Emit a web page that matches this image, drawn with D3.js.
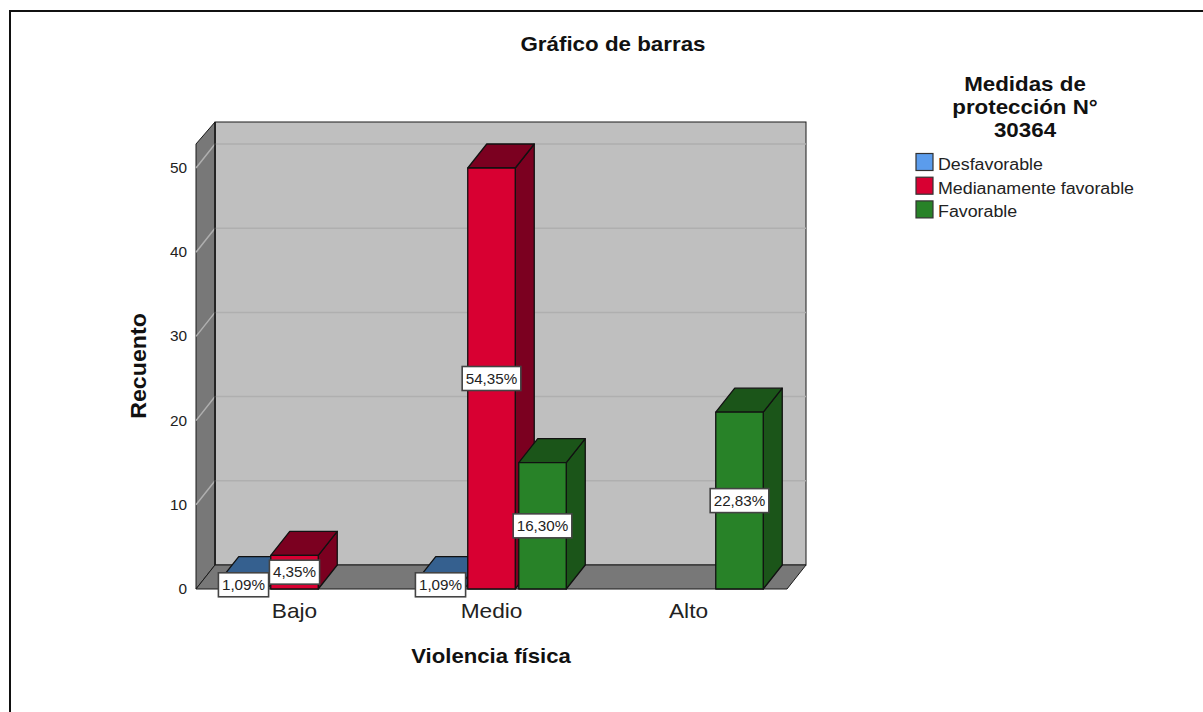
<!DOCTYPE html>
<meta charset="utf-8">
<style>
    html, body { margin: 0; padding: 0; background: #fff; }
    svg { display: block; }
    text { font-family: "Liberation Sans", Arial, sans-serif; fill: #222; }
    .bold { font-weight: bold; fill: #111; }
</style>
<svg width="1203" height="712"></svg>
<script src="https://d3js.org/d3.v7.min.js"></script>
<script>

    var categories = ["Bajo", "Medio", "Alto"];
    var seriesNames = ["Desfavorable", "Medianamente favorable", "Favorable"];
    var yTicks = [0, 10, 20, 30, 40, 50];
    // null = no bar drawn for that category
    var desfavorable = [1, 1, null];
    var medianamente = [4, 50, null];
    var favorable = [null, 15, 21];
    var desfavorableLabels = ["1,09%", "1,09%", null];
    var medianamenteLabels = ["4,35%", "54,35%", null];
    var favorableLabels = [null, "16,30%", "22,83%"];
    var legendTitle = ["Medidas de", "protección N°", "30364"];

    var frontColors = ["#5b9cec", "#d80032", "#288228"];
    var topColors = ["#35608f", "#7b0020", "#1b5519"];
    var sideColors = ["#2b4f78", "#7b0020", "#1b5519"];
    var lineColor = "#1a1a1a";

    var svg = d3.select("svg");

    // the original text is a bit wider than Liberation Sans, stretch it sideways
    var stretch = function (selection, k) {
        selection.each(function () {
            var len = this.getComputedTextLength();
            d3.select(this)
                .attr("textLength", len * k)
                .attr("lengthAdjust", "spacingAndGlyphs");
        });
    };

    // outer frame of the picture, only top and left show
    svg.append("path")
        .attr("d", "M10,712V11H1203")
        .attr("fill", "none")
        .attr("stroke", "#111")
        .attr("stroke-width", 2);

    // depth of the fake 3D
    var depthX = 19, depthY = 24;

    var x = d3.scaleBand().domain(categories).range([196, 787]);
    var x1 = d3.scaleBand().domain(seriesNames).range([-76.5, 76.5]);
    var y = d3.scaleLinear().domain([0, 50]).range([589, 168]);
    var barWidth = 47.5;
    var wallTop = 122, wallFrontTop = 144;

    var left = x.range()[0], right = x.range()[1];
    var floorY = y(0);

    var walls = svg.append("g");
    // back wall
    walls.append("rect")
        .attr("x", left + depthX).attr("y", wallTop)
        .attr("width", right - left).attr("height", floorY - depthY - wallTop)
        .attr("fill", "#bfbfbf").attr("stroke", lineColor);
    // left wall
    walls.append("path")
        .attr("d", "M" + left + "," + floorY + "V" + wallFrontTop +
            "L" + (left + depthX) + "," + wallTop + "V" + (floorY - depthY) + "Z")
        .attr("fill", "#787878").attr("stroke", lineColor);
    // floor
    walls.append("path")
        .attr("d", "M" + left + "," + floorY + "L" + (left + depthX) + "," + (floorY - depthY) +
            "H" + (right + depthX) + "L" + right + "," + floorY + "Z")
        .attr("fill", "#787878").attr("stroke", lineColor);

    // gridlines run along the left wall and over the back wall
    yTicks.slice(1).forEach(function (t) {
        walls.append("path")
            .attr("d", "M" + left + "," + y(t) + "L" + (left + depthX) + "," + (y(t) - depthY) + "H" + (right + depthX))
            .attr("fill", "none")
            .attr("stroke", "#afafaf")
            .attr("stroke-width", 1.5);
    });
    // redraw the corner over the gridlines
    walls.append("path")
        .attr("d", "M" + (left + depthX) + "," + wallTop + "V" + (floorY - depthY))
        .attr("stroke", lineColor).attr("stroke-width", 1.5);

    // y axis, only the numbers
    var yAxis = svg.append("g")
        .attr("transform", "translate(" + left + ",0)")
        .call(d3.axisLeft(y).tickValues(yTicks).tickSize(0).tickPadding(9));
    yAxis.select(".domain").remove();
    yAxis.selectAll("text").style("font-size", "14px").attr("font-family", null).call(stretch, 1.1);

    // x axis, only the names
    var xAxis = svg.append("g")
        .attr("transform", "translate(0," + floorY + ")")
        .call(d3.axisBottom(x).tickSize(0).tickPadding(14));
    xAxis.select(".domain").remove();
    xAxis.selectAll("text").style("font-size", "21px").attr("font-family", null).call(stretch, 1.08);

    // bars, each one a front, a top and a side
    var allSeries = [desfavorable, medianamente, favorable];
    var allLabels = [desfavorableLabels, medianamenteLabels, favorableLabels];
    var labelItems = [];
    var bars = svg.append("g");

    categories.forEach(function (cat, c) {
        allSeries.forEach(function (values, s) {
            var v = values[c];
            if (v === null) return;
            var x0 = x(cat) + x.bandwidth() / 2 + x1(seriesNames[s]) + (x1.bandwidth() - barWidth) / 2;
            var x2 = x0 + barWidth;
            var yTop = y(v);
            var g = bars.append("g")
                .attr("stroke", "#111")
                .attr("stroke-width", 1.3)
                .attr("stroke-linejoin", "round");
            g.append("path")
                .attr("d", "M" + x2 + "," + yTop + "L" + (x2 + depthX) + "," + (yTop - depthY) +
                    "V" + (floorY - depthY) + "L" + x2 + "," + floorY + "Z")
                .attr("fill", sideColors[s]);
            g.append("path")
                .attr("d", "M" + x0 + "," + yTop + "L" + (x0 + depthX) + "," + (yTop - depthY) +
                    "H" + (x2 + depthX) + "L" + x2 + "," + yTop + "Z")
                .attr("fill", topColors[s]);
            g.append("rect")
                .attr("x", x0).attr("y", yTop)
                .attr("width", barWidth).attr("height", floorY - yTop)
                .attr("fill", frontColors[s]);
            labelItems.push({ text: allLabels[s][c], cx: (x0 + x2) / 2, cy: y(v / 2) });
        });
    });

    // percentage boxes go on top of every bar
    labelItems.forEach(function (d) {
        var g = svg.append("g").attr("transform", "translate(" + d.cx + "," + d.cy + ")");
        var t = g.append("text")
            .attr("text-anchor", "middle")
            .attr("dy", "0.36em")
            .style("font-size", "14.5px")
            .text(d.text);
        var w = t.node().getComputedTextLength() * 1.05 + 7;
        t.call(stretch, 1.05);
        g.insert("rect", "text")
            .attr("x", -w / 2).attr("y", -12)
            .attr("width", w).attr("height", 24)
            .attr("fill", "#fff")
            .attr("stroke", "#444")
            .attr("stroke-width", 1.6);
    });

    // titles
    svg.append("text")
        .attr("class", "bold")
        .attr("x", 613).attr("y", 51)
        .attr("text-anchor", "middle")
        .style("font-size", "20.5px")
        .text("Gráfico de barras")
        .call(stretch, 1.09);
    svg.append("text")
        .attr("class", "bold")
        .attr("x", 491).attr("y", 663)
        .attr("text-anchor", "middle")
        .style("font-size", "20.5px")
        .text("Violencia física")
        .call(stretch, 1.08);
    svg.append("text")
        .attr("class", "bold")
        .attr("transform", "translate(146,366) rotate(-90)")
        .attr("text-anchor", "middle")
        .style("font-size", "22.5px")
        .text("Recuento")
        .call(stretch, 1.03);

    // legend
    svg.append("g").selectAll("text")
        .data(legendTitle)
        .enter()
        .append("text")
        .attr("class", "bold")
        .attr("x", 1025)
        .attr("y", function (d, i) { return 91 + i * 23; })
        .attr("text-anchor", "middle")
        .style("font-size", "20.5px")
        .text(function (d) { return d; })
        .call(stretch, 1.09);

    var legend = svg.append("g").selectAll("g")
        .data(seriesNames)
        .enter()
        .append("g")
        .attr("transform", function (d, i) { return "translate(916," + (153.5 + i * 23.7) + ")"; });
    legend.append("rect")
        .attr("width", 17).attr("height", 17)
        .attr("fill", function (d, i) { return frontColors[i]; })
        .attr("stroke", "#333").attr("stroke-width", 1.2);
    legend.append("text")
        .attr("x", 22).attr("y", 16.5)
        .style("font-size", "16px")
        .text(function (d) { return d; })
        .call(stretch, 1.113);

</script>
